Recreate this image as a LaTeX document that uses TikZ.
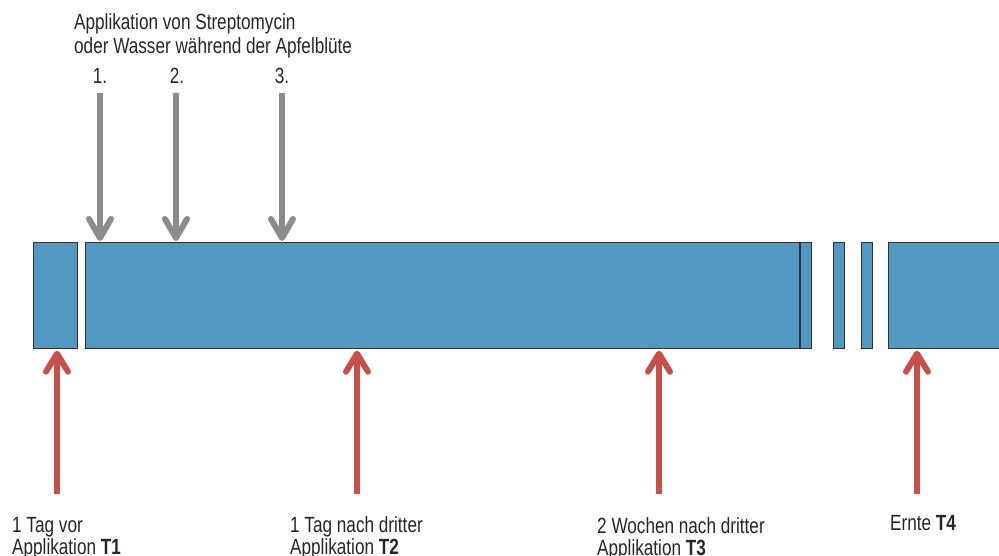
\documentclass[tikz,border=0pt]{standalone}
\usepackage{fontspec}
\setmainfont[FakeStretch=0.78]{Liberation Sans}
\usetikzlibrary{arrows.meta}
\definecolor{boxblue}{RGB}{81,153,194}
\definecolor{boxline}{RGB}{50,50,50}
\definecolor{grayarr}{RGB}{140,140,140}
\definecolor{redarr}{RGB}{200,80,75}
\tikzset{
  bar/.style={draw=boxline, fill=boxblue, line width=1.2pt, inner sep=0pt, minimum height=106pt, anchor=north west},
  garrow/.style={draw=grayarr, line width=6pt, -{Straight Barb[length=19pt,width=22pt,line width=6pt,round]}},
  rarrow/.style={draw=redarr, line width=6pt, -{Straight Barb[length=18pt,width=22pt,line width=6pt,round]}},
  lbl/.style={font=\fontsize{22}{25}\selectfont, inner sep=0pt, anchor=base west, text=black!85}
}
\begin{document}
\begin{tikzpicture}[x=1pt,y=-1pt]
\useasboundingbox (0,0) rectangle (999,556);
% bars
\node[bar, minimum width=44pt] (b1) at (33,242) {};
\node[bar, minimum width=726pt] (b2) at (85,242) {};
\draw[boxline, line width=1.2pt] (800,242) -- (800,348);
\node[bar, minimum width=11pt] (b3) at (833,242) {};
\node[bar, minimum width=11pt] (b4) at (861,242) {};
\node[bar, minimum width=140pt] (b5) at (888,242) {};
% title
\node[lbl] (title1) at (74,30) {Applikation von Streptomycin};
\node[lbl] (title2) at (74,54) {oder Wasser während der Apfelblüte};
% gray arrows
\node[lbl, anchor=base] (n1) at (100,84) {1.};
\node[lbl, anchor=base] (n2) at (177,84) {2.};
\node[lbl, anchor=base] (n3) at (282,84) {3.};
\coordinate (g1) at (100,93);
\coordinate (g2) at (176,93);
\coordinate (g3) at (282,93);
\draw[garrow] (g1) -- ([yshift=1pt]g1 |- b2.north);
\draw[garrow] (g2) -- ([yshift=1pt]g2 |- b2.north);
\draw[garrow] (g3) -- ([yshift=1pt]g3 |- b2.north);
% red arrows
\coordinate (r1) at (57,494);
\coordinate (r2) at (357,494);
\coordinate (r3) at (659,494);
\coordinate (r4) at (917,494);
\draw[rarrow] (r1) -- ([yshift=-1.5pt]r1 |- b1.south);
\draw[rarrow] (r2) -- ([yshift=-1.5pt]r2 |- b2.south);
\draw[rarrow] (r3) -- ([yshift=-1.5pt]r3 |- b2.south);
\draw[rarrow] (r4) -- ([yshift=-1.5pt]r4 |- b5.south);
% bottom labels
\node[lbl] (t1a) at (12,532) {1 Tag vor};
\node[lbl] (t1b) at (12,554) {Applikation \textbf{T1}};
\node[lbl] (t2a) at (290,532) {1 Tag nach dritter};
\node[lbl] (t2b) at (290,554) {Applikation \textbf{T2}};
\node[lbl] (t3a) at (597,533) {2 Wochen nach dritter};
\node[lbl] (t3b) at (597,555) {Applikation \textbf{T3}};
\node[lbl] (t4) at (890,530) {Ernte \textbf{T4}};
\end{tikzpicture}
\end{document}
